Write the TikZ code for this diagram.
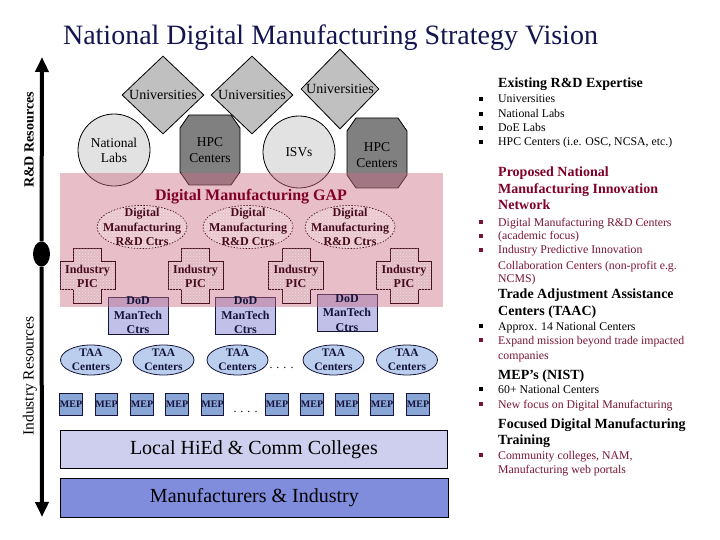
\documentclass[tikz,border=0pt]{standalone}
\usepackage{fontspec}
\setmainfont{Liberation Serif}
\usetikzlibrary{shapes.geometric,arrows.meta,patterns}
\definecolor{titlec}{RGB}{20,20,80}
\definecolor{maroon}{RGB}{128,0,40}
\definecolor{redtext}{RGB}{120,20,50}
\definecolor{dkmaroon}{RGB}{70,10,30}
\definecolor{diamondgray}{RGB}{192,192,192}
\definecolor{circlegray}{RGB}{226,226,226}
\definecolor{octgray}{RGB}{128,128,128}
\definecolor{gappink}{RGB}{205,110,135}
\definecolor{ellfill}{RGB}{234,198,206}
\definecolor{crossfill}{RGB}{226,186,196}
\definecolor{lavender}{RGB}{192,192,232}
\definecolor{taablue}{RGB}{188,206,238}
\definecolor{mepblue}{RGB}{138,166,214}
\definecolor{hiedfill}{RGB}{206,206,238}
\definecolor{mfgfill}{RGB}{128,140,220}
\definecolor{navy}{RGB}{20,20,60}
\begin{document}
\begin{tikzpicture}[x=1pt,y=-1pt,
  lbl/.style={align=center, inner sep=0},
  diam/.style={diamond, draw=black, line width=0.8, fill=diamondgray, inner sep=0,
    minimum width=82, minimum height=78, font=\fontsize{14}{16}\selectfont},
  circ/.style={circle, draw=black, line width=0.8, fill=circlegray, inner sep=0,
    minimum size=72, align=center, font=\fontsize{13.5}{15}\selectfont},
  octshape/.style={draw=black, line width=0.8, fill=octgray},
  octtext/.style={align=center, inner sep=0, font=\fontsize{13.5}{16}\selectfont},
  gapbox/.style={rectangle, draw=none, fill=gappink, fill opacity=0.45, inner sep=0, anchor=north west},
  dmell/.style={ellipse, draw=dkmaroon, dash pattern=on 1.5pt off 1.5pt, line width=0.7,
    fill=ellfill, postaction={pattern=crosshatch dots, pattern color=white!55!ellfill},
    inner sep=0, minimum width=90, minimum height=43},
  dmtext/.style={align=center, inner sep=0, text=dkmaroon, font=\bfseries\fontsize{12}{14.5}\selectfont},
  plusshape/.style={draw=dkmaroon, line width=0.7, fill=crossfill,
    postaction={pattern=crosshatch dots, pattern color=white!55!crossfill}},
  dodbox/.style={rectangle, draw=navy, line width=0.8, fill=lavender, inner sep=0,
    minimum width=60, minimum height=37},
  dodtext/.style={align=center, inner sep=0, text=navy, font=\bfseries\fontsize{12}{14.5}\selectfont},
  taaell/.style={ellipse, draw=navy, line width=0.8, fill=taablue, inner sep=0,
    minimum width=61, minimum height=30},
  taatext/.style={align=center, inner sep=0, text=navy, font=\bfseries\fontsize{11.5}{14}\selectfont},
  mep/.style={rectangle, draw=navy, line width=0.8, fill=mepblue, inner sep=0,
    minimum width=22, minimum height=22, text=navy, font=\bfseries\fontsize{10}{10}\selectfont},
  dotsn/.style={inner sep=0, anchor=base, font=\fontsize{12}{12}\selectfont},
  bigbox/.style={rectangle, draw=black, line width=0.8, inner sep=0, anchor=north west,
    font=\fontsize{20}{22}\selectfont},
  rhead/.style={anchor=base west, inner sep=0, font=\bfseries\fontsize{14}{16}\selectfont},
  ritem/.style={anchor=base west, inner sep=0, font=\fontsize{11.8}{14}\selectfont},
  bul/.style={rectangle, fill=#1, inner sep=0, minimum width=3.2, minimum height=3.6}
]
\useasboundingbox (0,0) rectangle (720,540);

% title
\node[anchor=base, inner sep=0, text=titlec, font=\fontsize{28}{30}\selectfont] (title) at (330.5,45)
  {National Digital Manufacturing Strategy Vision};

% diamonds
\node[diam] (u1) at (163,95) {Universities};
\node[diam] (u2) at (252,95) {Universities};
\node[diam, minimum width=78, minimum height=80] (u3) at (340,89) {Universities};

% circles
\node[circ] (nl) at (114,150) {National\\Labs};
\node[circ] (isv) at (299,152) {ISVs};

% octagons
\foreach \x/\y in {210/150, 377/153} {
  \draw[octshape] (\x,\y) ++(-21,-35) -- ++(42,0) -- ++(9,13) -- ++(0,44) -- ++(-9,13)
    -- ++(-42,0) -- ++(-9,-13) -- ++(0,-44) -- cycle;
}
\node[octtext] (hpc1) at (210,150) {HPC\\Centers};
\node[octtext] (hpc2) at (377,155) {HPC\\Centers};

% DoD ManTech boxes
\node[dodbox] (d1) at (138,315.5) {};
\node[dodbox] (d2) at (245.5,315.5) {};
\node[dodbox] (d3) at (347,313) {};

% GAP band
\node[gapbox, minimum width=383, minimum height=134] (gap) at (60,173) {};
\node[anchor=base, inner sep=0, text=maroon, font=\bfseries\fontsize{16}{18}\selectfont] (gaptext)
  at (251,200.5) {Digital Manufacturing GAP};

% DoD texts (above the band)
\node[dodtext] (d1t) at (d1) {DoD\\ManTech\\Ctrs};
\node[dodtext] (d2t) at (d2) {DoD\\ManTech\\Ctrs};
\node[dodtext] (d3t) at (d3) {DoD\\ManTech\\Ctrs};

% Digital Manufacturing R&D ellipses
\node[dmell, label={[dmtext]center:Digital\\Manufacturing\\R\&D Ctrs}] (e1) at (142,227) {};
\node[dmell, label={[dmtext]center:Digital\\Manufacturing\\R\&D Ctrs}] (e2) at (248,227) {};
\node[dmell, label={[dmtext]center:Digital\\Manufacturing\\R\&D Ctrs}] (e3) at (350,227) {};

% Industry PIC crosses
\foreach \n/\x in {p1/87.5, p2/195.5, p3/296, p4/404} {
  \draw[plusshape] (\x,275.5) ++(-14,-27.5) -- ++(28,0) -- ++(0,13.5) -- ++(13.5,0) -- ++(0,28)
    -- ++(-13.5,0) -- ++(0,13.5) -- ++(-28,0) -- ++(0,-13.5) -- ++(-13.5,0) -- ++(0,-28)
    -- ++(13.5,0) -- cycle;
  \node[dmtext, font=\bfseries\fontsize{12}{14}\selectfont] (\n) at (\x,276) {Industry\\PIC};
}

% TAA ellipses
\node[taaell, label={[taatext]center:TAA\\Centers}] (t1) at (91,360) {};
\node[taaell, label={[taatext]center:TAA\\Centers}] (t2) at (163.5,360) {};
\node[taaell, label={[taatext]center:TAA\\Centers}] (t3) at (237.5,360) {};
\node[dotsn] (tdots) at (281.5,368) {. . . .};
\node[taaell, label={[taatext]center:TAA\\Centers}] (t4) at (333.5,360) {};
\node[taaell, label={[taatext]center:TAA\\Centers}] (t5) at (407,360) {};

% MEP boxes
\foreach \n/\x in {m1/71, m2/106.5, m3/142, m4/177, m5/212.5, m6/277, m7/312, m8/347, m9/382, m10/418} {
  \node[mep] (\n) at (\x,404) {MEP};
}
\node[dotsn] (mdots) at (245.5,412) {. . . .};

% bottom boxes
\node[bigbox, fill=hiedfill, minimum width=387, minimum height=38] (hied) at (60,430)
  {Local HiEd \& Comm Colleges};
\node[bigbox, fill=mfgfill, minimum width=388, minimum height=39] (mfg) at (60,478)
  {Manufacturers \& Industry};

% left axis
\coordinate (atop) at (42,57);
\coordinate (abot) at (42,517);
\node[ellipse, fill=black, inner sep=0, minimum width=17, minimum height=25] (amid) at (41.5,254) {};
\draw[line width=4, -{Triangle[length=15pt,width=13pt]}] (amid) -- (atop);
\draw[line width=4, -{Triangle[length=15pt,width=13pt]}] (amid) -- (abot);
\node[rotate=90, inner sep=0, font=\bfseries\fontsize{14}{16}\selectfont] (rdres) at (29,140) {R\&D Resources};
\node[rotate=90, inner sep=0, font=\fontsize{15.5}{17}\selectfont] (indres) at (30,376) {Industry Resources};

% right column
\node[rhead] (h1) at (498,88) {Existing R\&D Expertise};
\node[bul=black] (b1) at (481,99) {};
\node[ritem] (i1) at (498,103) {Universities};
\node[bul=black] (b2) at (481,114) {};
\node[ritem] (i2) at (498,118) {National Labs};
\node[bul=black] (b3) at (481,128) {};
\node[ritem] (i3) at (498,132) {DoE Labs};
\node[bul=black] (b4) at (481,142) {};
\node[ritem] (i4) at (498,146) {HPC Centers (i.e. OSC, NCSA, etc.)};

\node[rhead, text=maroon] (h2a) at (498,177) {Proposed National};
\node[rhead, text=maroon] (h2b) at (498,194) {Manufacturing Innovation};
\node[rhead, text=maroon] (h2c) at (498,210) {Network};
\node[bul=redtext] (b5) at (481,222) {};
\node[ritem, text=redtext] (i5) at (498,226) {Digital Manufacturing R\&D Centers};
\node[bul=redtext] (b6) at (481,236) {};
\node[ritem, text=redtext] (i6) at (498,240) {(academic focus)};
\node[bul=redtext] (b7) at (481,250) {};
\node[ritem, text=redtext] (i7) at (498,254) {Industry Predictive Innovation};
\node[ritem, text=redtext] (i7b) at (498,269) {Collaboration Centers (non-profit e.g.};
\node[ritem, text=redtext] (i7c) at (498,282) {NCMS)};

\node[rhead] (h3a) at (498,298) {Trade Adjustment Assistance};
\node[rhead] (h3b) at (498,315) {Centers (TAAC)};
\node[bul=black] (b8) at (481,326) {};
\node[ritem] (i8) at (498,330) {Approx. 14 National Centers};
\node[bul=redtext] (b9) at (481,340) {};
\node[ritem, text=redtext] (i9) at (498,344) {Expand mission beyond trade impacted};
\node[ritem, text=redtext] (i9b) at (498,359) {companies};

\node[rhead] (h4) at (498,379) {MEP’s (NIST)};
\node[bul=black] (b10) at (481,389) {};
\node[ritem] (i10) at (498,393) {60+ National Centers};
\node[bul=redtext] (b11) at (481,404) {};
\node[ritem, text=redtext] (i11) at (498,408) {New focus on Digital Manufacturing};

\node[rhead] (h5a) at (498,428) {Focused Digital Manufacturing};
\node[rhead] (h5b) at (498,444) {Training};
\node[bul=redtext] (b12) at (481,455) {};
\node[ritem, text=redtext] (i12) at (498,459) {Community colleges, NAM,};
\node[ritem, text=redtext] (i12b) at (498,473) {Manufacturing web portals};
\end{tikzpicture}
\end{document}
